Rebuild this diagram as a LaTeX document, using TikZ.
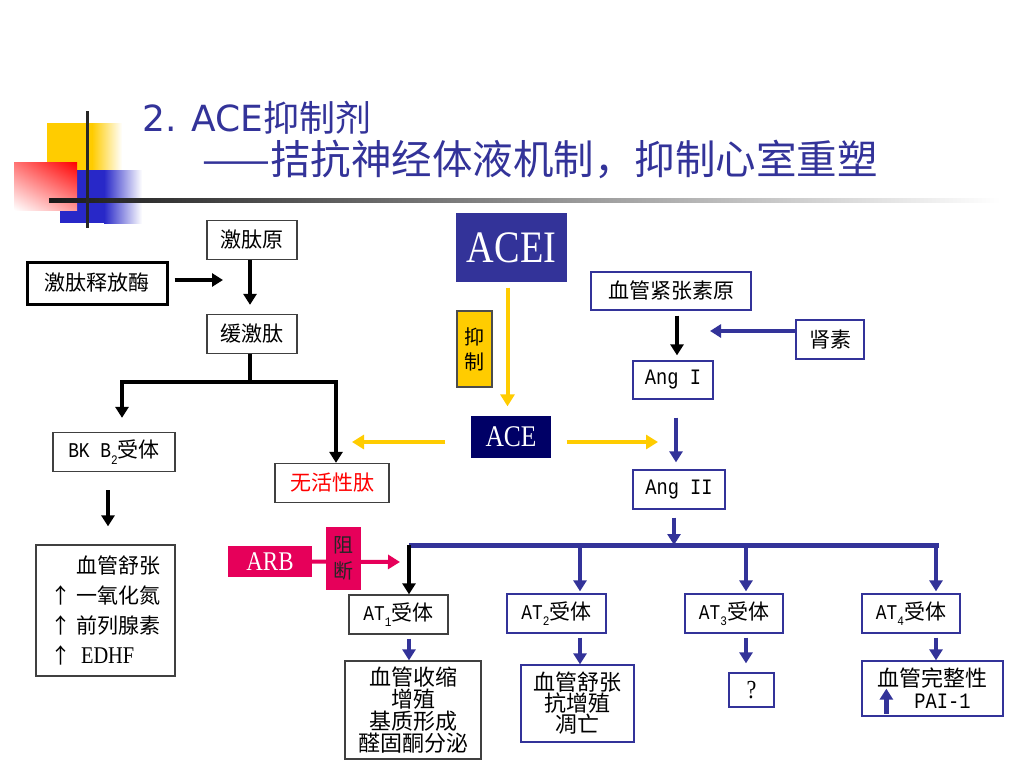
\documentclass[tikz,border=0pt]{standalone}
\usepackage{fontspec}
\setmainfont{Noto Sans CJK SC}
\newfontfamily\latfont[FakeStretch=0.85]{Liberation Serif}
\newfontfamily\monfont[FakeStretch=0.85]{Liberation Mono}
\newfontfamily\ttlfont{DejaVu Sans}
\usetikzlibrary{arrows.meta,calc,shadings}
\definecolor{ttlblue}{RGB}{51,51,153}
\definecolor{navyfill}{RGB}{0,0,102}
\definecolor{goldfill}{RGB}{255,204,0}
\definecolor{logoblue}{RGB}{40,40,200}
\definecolor{arbred}{RGB}{230,0,90}
\def\lowidx#1{\raisebox{-.3em}{\fontsize{13pt}{13pt}\selectfont #1}}

\begin{document}
\begin{tikzpicture}[x=1pt,y=-1pt,
		box/.style={draw=black!75,line width=1.3pt,fill=white,inner sep=0pt,align=center,font=\fontsize{21}{22}\selectfont},
		bbox/.style={box,draw=ttlblue},
		blk/.style={line width=3.5pt,black,-{Triangle[length=11pt,width=13pt]}},
		blu/.style={line width=4pt,ttlblue,-{Triangle[length=11pt,width=13pt]}},
		ylw/.style={line width=4pt,goldfill,-{Triangle[length=12pt,width=14pt]}},
		pnk/.style={line width=4pt,arbred,-{Triangle[length=12pt,width=14pt]}}]
			%%%%% START %%%%%
			
			\useasboundingbox[fill=white] (0,0) rectangle (1024,768);
			
			\fill[goldfill] (47,123) rectangle (92,185);
			\shade[left color=goldfill, right color=white] (92,123) rectangle (122,185);
			\fill[logoblue] (60,170) rectangle (104,223);
			\shade[left color=logoblue, right color=white] (104,170) rectangle (142,223);
			\shade[upper right=red, upper left=red!55, lower right=red!40, lower left=white] (14,162) rectangle (77,210);
			\shade[left color=black!90, middle color=black!50, right color=white] (49,198) rectangle (1000,202);
			\draw[line width=3pt, black!85] (87,111) -- (87,228);
			
			\node[anchor=west, inner sep=0pt, text=ttlblue, font=\fontsize{36}{36}\selectfont] (ttl1) at (142,118) {{\ttlfont 2. ACE}抑制剂};
			\node[anchor=west, inner sep=0pt, text=ttlblue, font=\fontsize{40.5}{40.5}\selectfont] (ttl2) at (202,159) {——拮抗神经体液机制，抑制心室重塑};
			
			\node[box, line width=3pt, draw=black, minimum width=140pt, minimum height=42pt] (jtsfm) at (97,283) {激肽释放酶};
			\node[box, minimum width=90pt, minimum height=39pt] (jtz) at (252,240) {激肽原};
			\node[box, minimum width=90pt, minimum height=39pt] (hjt) at (252,334) {缓激肽};
			\node[box, minimum width=122pt, minimum height=39pt] (bkb2) at (114,452) {{\monfont BK B\lowidx{2}}受体};
			\node[box, text=red, minimum width=114pt, minimum height=39pt] (whxt) at (332,483) {无活性肽};
			\node[box, align=left, font=\fontsize{21}{30}\selectfont, minimum width=139pt, minimum height=131pt] (xgsz) at (105.5,610.5) {\hphantom{↑ }血管舒张\\↑ 一氧化氮\\↑ 前列腺素\\↑ \ {\latfont\fontsize{24}{30}\selectfont EDHF}};
			
			\coordinate (k1) at (223,280);
			\coordinate (kf) at (250,382);
			\draw[blk, line width=4pt, shorten <=6pt] (jtsfm.east |- k1) -- (k1);
			\draw[blk, shorten >=9pt] ([xshift=-2pt]jtz.south) -- ([xshift=-2pt]hjt.north);
			\draw[line width=3.5pt] ([xshift=-2pt]hjt.south) -- (kf);
			\draw[blk, shorten >=14pt] (kf) -| ([xshift=8pt]bkb2.north);
			\draw[blk] (kf) -| ([xshift=4pt]whxt.north);
			\draw[blk, shorten <=18pt, shorten >=18pt] ([xshift=-6pt]bkb2.south) -- ([xshift=-6pt]bkb2.south |- xgsz.north);
			
			\node[box, draw=ttlblue, fill=ttlblue, text=white, font=\latfont\fontsize{45}{45}\selectfont, minimum width=109pt, minimum height=67pt] (acei) at (511.5,247.5) {ACEI};
			\node[box, draw=black!70, fill=goldfill, font=\fontsize{20}{25}\selectfont, minimum width=35pt, minimum height=76pt] (yz) at (474.5,349) {抑\\制};
			\node[box, draw=navyfill, fill=navyfill, text=white, font=\latfont\fontsize{30}{30}\selectfont, minimum width=78pt, minimum height=40pt] (ace) at (511,437) {ACE};
			
			\coordinate (yl) at (352,442);
			\coordinate (yr) at (658,442);
			\draw[ylw, shorten <=6pt, shorten >=10pt] ([xshift=-4pt]acei.south) -- ([xshift=-4pt]acei.south |- ace.north);
			\draw[ylw, shorten <=26pt] (ace.west |- yl) -- (yl);
			\draw[ylw, shorten <=16pt] (ace.east |- yr) -- (yr);
			
			\node[bbox, minimum width=160pt, minimum height=38pt] (agt) at (671,291) {血管紧张素原};
			\node[bbox, minimum width=68pt, minimum height=39pt] (renin) at (830,339.5) {肾素};
			\node[bbox, font=\monfont\fontsize{22}{22}\selectfont, minimum width=80pt, minimum height=38pt] (ang1) at (673,380) {Ang I};
			\node[bbox, font=\monfont\fontsize{22}{22}\selectfont, minimum width=92pt, minimum height=39pt] (ang2) at (679,489.5) {Ang II};
			
			\coordinate (rn) at (710,331);
			\draw[blk, shorten <=5pt, shorten >=5pt] ([xshift=6pt]agt.south) -- ([xshift=6pt]agt.south |- ang1.north);
			\draw[blu] (renin.west |- rn) -- (rn);
			\draw[blu, shorten <=18pt, shorten >=7pt] ([xshift=3pt]ang1.south) -- ([xshift=3pt]ang1.south |- ang2.north);
			
			\coordinate (bl) at (409,545);
			\coordinate (bm) at (674,545);
			\coordinate (b2) at (580,545);
			\coordinate (b3) at (746,545);
			\coordinate (b4) at (936,545);
			\draw[line width=5pt, ttlblue] (bl) -- ([xshift=2.5pt]b4);
			\draw[blu, shorten <=8pt] (ang2.south -| bm) -- (bm);
			
			\node[box, minimum width=99pt, minimum height=39pt] (at1) at (398.5,614.5) {{\monfont AT\lowidx{1}}受体};
			\node[bbox, minimum width=99pt, minimum height=39pt] (at2) at (556.5,613.5) {{\monfont AT\lowidx{2}}受体};
			\node[bbox, minimum width=98pt, minimum height=39pt] (at3) at (734,613.5) {{\monfont AT\lowidx{3}}受体};
			\node[bbox, minimum width=98pt, minimum height=39pt] (at4) at (911,613.5) {{\monfont AT\lowidx{4}}受体};
			
			\draw[blk] (bl) -- (bl |- at1.north);
			\draw[blu, shorten >=2pt] (b2) -- (b2 |- at2.north);
			\draw[blu, shorten >=2pt] (b3) -- (b3 |- at3.north);
			\draw[blu, shorten >=2pt] (b4) -- (b4 |- at4.north);
			
			\node[box, font=\fontsize{22}{22}\selectfont, minimum width=136pt, minimum height=98pt] (e1) at (413,710) {血管收缩\\增殖\\基质形成\\醛固酮分泌};
			\node[bbox, font=\fontsize{22}{21}\selectfont, minimum width=113pt, minimum height=77pt] (e2) at (577.5,703.5) {血管舒张\\抗增殖\\凋亡};
			\node[bbox, font=\latfont\fontsize{26}{26}\selectfont, minimum width=45pt, minimum height=34pt] (e3) at (751.5,690) {?};
			\node[bbox, font=\fontsize{22}{22}\selectfont, minimum width=141pt, minimum height=55pt] (e4) at (932.5,688.5) {血管完整性\\\hspace*{20pt}{\monfont PAI-1}};
			
			\draw[blu, shorten <=4pt] (bl |- at1.south) -- (bl |- e1.north);
			\draw[blu, shorten <=4pt] (b2 |- at2.south) -- (b2 |- e2.north);
			\draw[blu, shorten <=4pt, shorten >=9pt] (b3 |- at3.south) -- (b3 |- e3.north);
			\draw[blu, shorten <=4pt] (b4 |- at4.south) -- (b4 |- e4.north);
			\draw[blu, line width=5pt] ($(e4.south west)+(25,-3)$) -- ++(0,-25);
			
			\node[box, draw=arbred, fill=arbred, text=white, font=\latfont\fontsize{27}{27}\selectfont, minimum width=82pt, minimum height=29pt] (arb) at (270,561.5) {ARB};
			\coordinate (pk) at (400,562);
			\draw[pnk] (arb.east) -- (pk);
			\node[box, draw=arbred, fill=arbred, text=black!85, font=\fontsize{20}{26}\selectfont, minimum width=33pt, minimum height=61pt] (zd) at (343.5,558.5) {阻\\断};
			
			%%%%% END %%%%%
		\end{tikzpicture}
\end{document}
